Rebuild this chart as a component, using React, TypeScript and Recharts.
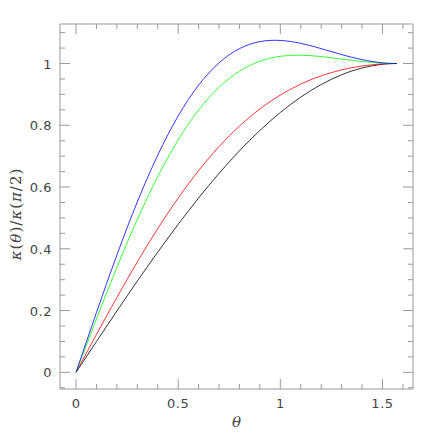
import React from 'react';
import { LineChart, Line, XAxis, YAxis } from 'recharts';

// theta samples (last one is pi/2)
const THETA = [0, 0.1, 0.2, 0.3, 0.4, 0.5, 0.6, 0.7, 0.8, 0.9, 1.0, 1.1, 1.2, 1.3, 1.4, 1.5, 1.5708];

const BLACK = [0, 0.0998, 0.1987, 0.2955, 0.3894, 0.4794, 0.5646, 0.6442, 0.7174, 0.7833, 0.8415, 0.8912, 0.932, 0.9636, 0.9855, 0.9975, 1];
const RED = [0, 0.1226, 0.2426, 0.3575, 0.4654, 0.5643, 0.6531, 0.7309, 0.7974, 0.853, 0.8979, 0.9334, 0.9602, 0.9795, 0.992, 0.9987, 1];
const GREEN = [0, 0.173, 0.3399, 0.4951, 0.6339, 0.7527, 0.8492, 0.9231, 0.9751, 1.0074, 1.0233, 1.0269, 1.0226, 1.0146, 1.0065, 1.0012, 1];
const BLUE = [0, 0.1937, 0.3799, 0.5518, 0.7033, 0.8302, 0.93, 1.0022, 1.0482, 1.0709, 1.0748, 1.0654, 1.0483, 1.029, 1.0126, 1.0023, 1];

const X_TICKS = [0, 0.1, 0.2, 0.3, 0.4, 0.5, 0.6, 0.7, 0.8, 0.9, 1, 1.1, 1.2, 1.3, 1.4, 1.5, 1.6];
const X_LABELS: Record<string, string> = { '0': '0', '0.5': '0.5', '1': '1', '1.5': '1.5' };
const Y_TICKS = [-0.05, 0, 0.05, 0.1, 0.15, 0.2, 0.25, 0.3, 0.35, 0.4, 0.45, 0.5, 0.55, 0.6, 0.65, 0.7, 0.75, 0.8, 0.85, 0.9, 0.95, 1, 1.05, 1.1];
const Y_LABELS: Record<string, string> = { '0': '0', '0.2': '0.2', '0.4': '0.4', '0.6': '0.6', '0.8': '0.8', '1': '1' };

const data = THETA.map((t, i) => ({
  t,
  black: BLACK[i],
  red: RED[i],
  green: GREEN[i],
  blue: BLUE[i],
}));

const AXIS = '#999';
const TXT = '#444';
const FONT = '"DejaVu Sans", sans-serif';
const X_DOMAIN = [-0.0785, 1.6495];
const Y_DOMAIN = [-0.054, 1.128];

const XTick = (props: any) => {
  const { x, y, payload, side } = props;
  const label = X_LABELS[String(payload.value)];
  const len = label !== undefined ? 10 : 5;
  const dir = side === 'bottom' ? -1 : 1;
  return (
    <g>
      <line x1={x} x2={x} y1={y} y2={y + dir * len} stroke={AXIS} strokeWidth={1} />
      {side === 'bottom' && label !== undefined && (
        <text x={x} y={y + 19} textAnchor="middle" fontSize={13} letterSpacing={0.5} fill={TXT} fontFamily={FONT}>
          {label}
        </text>
      )}
    </g>
  );
};

const YTick = (props: any) => {
  const { x, y, payload, side } = props;
  const label = Y_LABELS[String(payload.value)];
  const len = label !== undefined ? 10 : 5;
  const dir = side === 'left' ? 1 : -1;
  return (
    <g>
      <line x1={x} x2={x + dir * len} y1={y} y2={y} stroke={AXIS} strokeWidth={1} />
      {side === 'left' && label !== undefined && (
        <text x={x - 8} y={y + 5} textAnchor="end" fontSize={13} letterSpacing={0.5} fill={TXT} fontFamily={FONT}>
          {label}
        </text>
      )}
    </g>
  );
};

export default function App() {
  return (
    <div style={{ margin: -8, width: 436, height: 436, background: '#fff' }}>
      <LineChart width={436} height={436} data={data} margin={{ top: 23, right: 22, left: 0, bottom: 0 }}>
        <XAxis
          dataKey="t"
          type="number"
          domain={X_DOMAIN}
          ticks={X_TICKS}
          interval={0}
          allowDataOverflow
          height={47}
          stroke={AXIS}
          tickLine={false}
          tickSize={0}
          tickMargin={0}
          tick={(p: any) => <XTick {...p} side="bottom" />}
          label={{ value: 'θ', position: 'insideBottom', offset: 9, fontStyle: 'italic', fontSize: 15, fill: TXT, fontFamily: '"DejaVu Serif", serif' }}
        />
        <XAxis
          xAxisId="top"
          dataKey="t"
          orientation="top"
          type="number"
          domain={X_DOMAIN}
          ticks={X_TICKS}
          interval={0}
          allowDataOverflow
          height={1}
          stroke={AXIS}
          tickLine={false}
          tickSize={0}
          tickMargin={0}
          tick={(p: any) => <XTick {...p} side="top" />}
        />
        <YAxis
          type="number"
          domain={Y_DOMAIN}
          ticks={Y_TICKS}
          interval={0}
          allowDataOverflow
          width={60}
          stroke={AXIS}
          tickLine={false}
          tickSize={0}
          tickMargin={0}
          tick={(p: any) => <YTick {...p} side="left" />}
        />
        <YAxis
          yAxisId="right"
          orientation="right"
          type="number"
          domain={Y_DOMAIN}
          ticks={Y_TICKS}
          interval={0}
          allowDataOverflow
          width={1}
          stroke={AXIS}
          tickLine={false}
          tickSize={0}
          tickMargin={0}
          tick={(p: any) => <YTick {...p} side="right" />}
        />
        {/* invisible series so the top/right frame axes get drawn */}
        <Line xAxisId="top" yAxisId="right" dataKey="black" stroke="none" dot={false} activeDot={false} legendType="none" isAnimationActive={false} />
        <Line type="natural" dataKey="black" stroke="#000000" strokeWidth={0.8} dot={false} isAnimationActive={false} />
        <Line type="natural" dataKey="red" stroke="#ff0000" strokeWidth={0.8} dot={false} isAnimationActive={false} />
        <Line type="natural" dataKey="green" stroke="#00ff00" strokeWidth={0.8} dot={false} isAnimationActive={false} />
        <Line type="natural" dataKey="blue" stroke="#0000ff" strokeWidth={0.8} dot={false} isAnimationActive={false} />
        <text x={21} y={214} transform="rotate(-90 21 214)" textAnchor="middle" fontSize={15} letterSpacing={1} fill={TXT} fontFamily='"DejaVu Serif", serif'>
          <tspan fontStyle="italic">κ</tspan>(<tspan fontStyle="italic">θ</tspan>)/<tspan fontStyle="italic">κ</tspan>(<tspan fontStyle="italic">π</tspan>/2)
        </text>
      </LineChart>
    </div>
  );
}
